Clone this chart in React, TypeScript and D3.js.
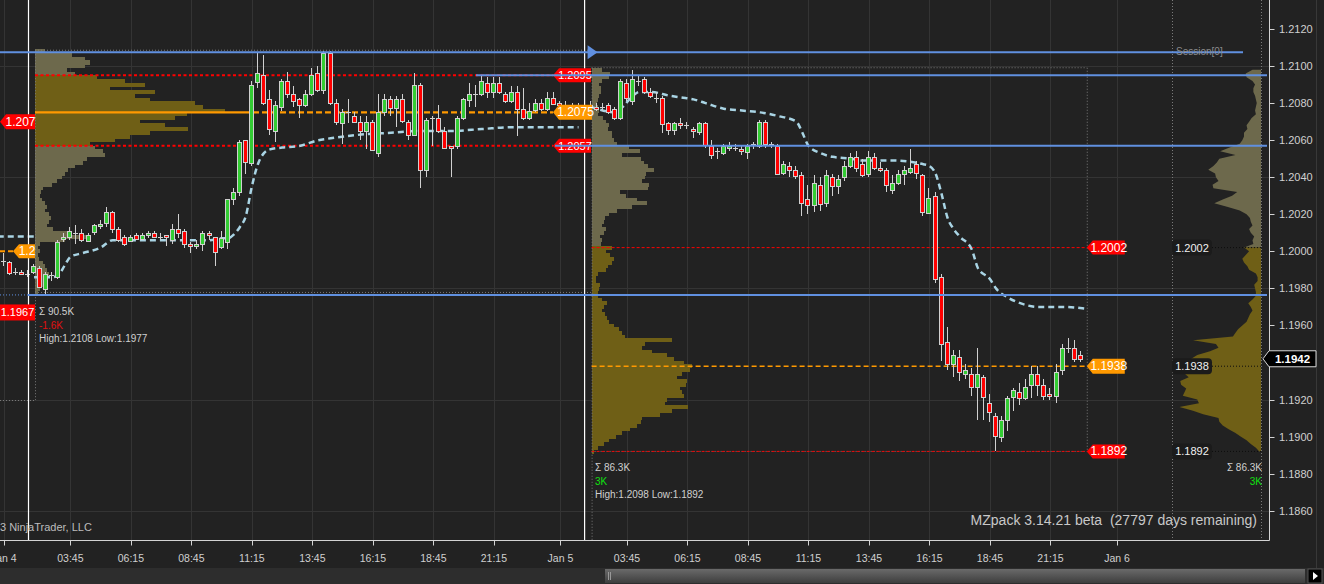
import React from 'react';
import * as d3 from 'd3';

const W = 1324;
const H = 584;
const FONT = '"Liberation Sans", Arial, sans-serif';

// ---------- data ----------
const FIRST_BAR = -4; // bar index of first candle (bar 0 = session 1 open, bar 92 = session 2 open)
const CANDLES: [number, number, number, number][] = [
  [1.1995, 1.1999, 1.1992, 1.1995], [1.1994, 1.1995, 1.1987, 1.1988], [1.1989, 1.1991, 1.1987, 1.1989], [1.1989, 1.1990, 1.1987, 1.1988],
  [1.1988, 1.1990, 1.1986, 1.1988], [1.1989, 1.1993, 1.1988, 1.1992], [1.1991, 1.1992, 1.1980, 1.1981], [1.1980, 1.1989, 1.1977, 1.1988],
  [1.1987, 1.1989, 1.1984, 1.1987], [1.1986, 1.2006, 1.1985, 1.2005], [1.2007, 1.2010, 1.2005, 1.2008], [1.2008, 1.2013, 1.2006, 1.2011],
  [1.2010, 1.2014, 1.2004, 1.2010], [1.2010, 1.2012, 1.2005, 1.2006], [1.2006, 1.2010, 1.2005, 1.2009], [1.2010, 1.2015, 1.2009, 1.2014],
  [1.2014, 1.2017, 1.2012, 1.2015], [1.2015, 1.2024, 1.2013, 1.2021], [1.2021, 1.2022, 1.2010, 1.2012], [1.2012, 1.2013, 1.2005, 1.2006],
  [1.2008, 1.2009, 1.2003, 1.2004], [1.2006, 1.2009, 1.2005, 1.2008], [1.2009, 1.2010, 1.2006, 1.2007], [1.2007, 1.2010, 1.2006, 1.2009],
  [1.2009, 1.2011, 1.2007, 1.2010], [1.2010, 1.2011, 1.2007, 1.2008], [1.2008, 1.2010, 1.2006, 1.2008], [1.2009, 1.2009, 1.2003, 1.2008],
  [1.2006, 1.2015, 1.2004, 1.2012], [1.2012, 1.2020, 1.2007, 1.2010], [1.2011, 1.2012, 1.2002, 1.2004], [1.2004, 1.2005, 1.1999, 1.2003],
  [1.2003, 1.2006, 1.2001, 1.2004], [1.2004, 1.2011, 1.2000, 1.2010], [1.2010, 1.2011, 1.2006, 1.2009], [1.2008, 1.2008, 1.1992, 1.2000],
  [1.2002, 1.2011, 1.2001, 1.2007], [1.2005, 1.2028, 1.2001, 1.2028], [1.2028, 1.2034, 1.2025, 1.2032], [1.2032, 1.2060, 1.2030, 1.2059],
  [1.2060, 1.2060, 1.2042, 1.2048], [1.2048, 1.2092, 1.2046, 1.2090], [1.2091, 1.2107, 1.2088, 1.2096], [1.2095, 1.2106, 1.2079, 1.2080],
  [1.2082, 1.2087, 1.2063, 1.2066], [1.2065, 1.2081, 1.2059, 1.2079], [1.2078, 1.2093, 1.2076, 1.2092], [1.2092, 1.2097, 1.2083, 1.2085],
  [1.2085, 1.2089, 1.2078, 1.2081], [1.2082, 1.2083, 1.2072, 1.2079], [1.2079, 1.2087, 1.2078, 1.2085], [1.2085, 1.2099, 1.2084, 1.2095],
  [1.2096, 1.2100, 1.2086, 1.2087], [1.2087, 1.2108, 1.2085, 1.2107], [1.2107, 1.2108, 1.2079, 1.2080], [1.2080, 1.2082, 1.2068, 1.2070],
  [1.2069, 1.2077, 1.2058, 1.2075], [1.2075, 1.2082, 1.2069, 1.2075], [1.2073, 1.2075, 1.2069, 1.2070], [1.2070, 1.2073, 1.2060, 1.2065],
  [1.2065, 1.2073, 1.2055, 1.2070], [1.2070, 1.2071, 1.2055, 1.2055], [1.2053, 1.2085, 1.2051, 1.2075], [1.2075, 1.2085, 1.2073, 1.2082],
  [1.2082, 1.2084, 1.2073, 1.2077], [1.2077, 1.2084, 1.2067, 1.2082], [1.2082, 1.2085, 1.2069, 1.2070], [1.2070, 1.2071, 1.2060, 1.2063],
  [1.2063, 1.2096, 1.2063, 1.2090], [1.2090, 1.2091, 1.2034, 1.2044], [1.2044, 1.2072, 1.2040, 1.2071], [1.2072, 1.2073, 1.2057, 1.2072],
  [1.2072, 1.2079, 1.2064, 1.2065], [1.2065, 1.2067, 1.2055, 1.2056], [1.2057, 1.2057, 1.2040, 1.2056], [1.2057, 1.2073, 1.2055, 1.2072],
  [1.2072, 1.2083, 1.2071, 1.2082], [1.2082, 1.2091, 1.2078, 1.2085], [1.2085, 1.2090, 1.2078, 1.2085], [1.2085, 1.2095, 1.2084, 1.2092],
  [1.2091, 1.2094, 1.2083, 1.2086], [1.2086, 1.2094, 1.2083, 1.2091], [1.2091, 1.2094, 1.2085, 1.2086], [1.2085, 1.2086, 1.2080, 1.2081],
  [1.2081, 1.2089, 1.2080, 1.2086], [1.2086, 1.2089, 1.2062, 1.2077], [1.2077, 1.2088, 1.2071, 1.2072], [1.2072, 1.2080, 1.2071, 1.2076],
  [1.2076, 1.2082, 1.2075, 1.2080], [1.2080, 1.2082, 1.2076, 1.2077], [1.2077, 1.2086, 1.2076, 1.2083], [1.2083, 1.2086, 1.2079, 1.2080],
  [1.2080, 1.2081, 1.2078, 1.2079], [1.2079, 1.2081, 1.2077, 1.2078], [1.2078, 1.2080, 1.2076, 1.2079], [1.2079, 1.2080, 1.2077, 1.2078],
  [1.2078, 1.2080, 1.2076, 1.2079], [1.2079, 1.2081, 1.2077, 1.2078], [1.2078, 1.2080, 1.2076, 1.2077], [1.2078, 1.2080, 1.2076, 1.2078],
  [1.2079, 1.2080, 1.2074, 1.2075], [1.2077, 1.2078, 1.2071, 1.2072], [1.2072, 1.2093, 1.2071, 1.2092], [1.2091, 1.2093, 1.2081, 1.2083],
  [1.2081, 1.2098, 1.2079, 1.2093], [1.2092, 1.2095, 1.2089, 1.2092], [1.2093, 1.2094, 1.2085, 1.2086], [1.2086, 1.2088, 1.2083, 1.2084],
  [1.2083, 1.2086, 1.2080, 1.2083], [1.2083, 1.2084, 1.2064, 1.2069], [1.2069, 1.2070, 1.2063, 1.2065], [1.2065, 1.2070, 1.2063, 1.2069],
  [1.2069, 1.2072, 1.2066, 1.2068], [1.2068, 1.2070, 1.2066, 1.2068], [1.2066, 1.2067, 1.2061, 1.2065], [1.2064, 1.2070, 1.2063, 1.2069],
  [1.2069, 1.2070, 1.2056, 1.2057], [1.2057, 1.2060, 1.2050, 1.2052], [1.2054, 1.2056, 1.2050, 1.2054], [1.2053, 1.2058, 1.2052, 1.2057],
  [1.2056, 1.2059, 1.2054, 1.2057], [1.2056, 1.2058, 1.2054, 1.2056], [1.2055, 1.2057, 1.2052, 1.2054], [1.2054, 1.2058, 1.2050, 1.2057],
  [1.2058, 1.2059, 1.2055, 1.2058], [1.2057, 1.2071, 1.2056, 1.2070], [1.2070, 1.2071, 1.2056, 1.2058], [1.2058, 1.2059, 1.2056, 1.2058],
  [1.2057, 1.2058, 1.2041, 1.2042], [1.2042, 1.2049, 1.2041, 1.2047], [1.2046, 1.2048, 1.2040, 1.2044], [1.2044, 1.2046, 1.2039, 1.2041],
  [1.2041, 1.2043, 1.2019, 1.2026], [1.2028, 1.2036, 1.2020, 1.2025], [1.2025, 1.2041, 1.2021, 1.2037], [1.2036, 1.2040, 1.2022, 1.2026],
  [1.2026, 1.2044, 1.2024, 1.2041], [1.2040, 1.2042, 1.2030, 1.2035], [1.2035, 1.2041, 1.2031, 1.2039], [1.2040, 1.2049, 1.2038, 1.2046],
  [1.2046, 1.2053, 1.2045, 1.2051], [1.2051, 1.2054, 1.2043, 1.2045], [1.2047, 1.2050, 1.2040, 1.2041], [1.2042, 1.2054, 1.2040, 1.2051],
  [1.2051, 1.2053, 1.2044, 1.2045], [1.2045, 1.2048, 1.2043, 1.2044], [1.2044, 1.2045, 1.2032, 1.2036], [1.2033, 1.2041, 1.2031, 1.2037],
  [1.2037, 1.2044, 1.2036, 1.2042], [1.2042, 1.2046, 1.2036, 1.2044], [1.2043, 1.2055, 1.2042, 1.2045], [1.2047, 1.2049, 1.2039, 1.2042],
  [1.2041, 1.2042, 1.2019, 1.2021], [1.2021, 1.2034, 1.2020, 1.2029], [1.2030, 1.2032, 1.1983, 1.1985], [1.1986, 1.1988, 1.1941, 1.1950],
  [1.1951, 1.1959, 1.1936, 1.1939], [1.1939, 1.1947, 1.1932, 1.1944], [1.1943, 1.1947, 1.1930, 1.1935], [1.1934, 1.1939, 1.1931, 1.1936],
  [1.1934, 1.1937, 1.1922, 1.1927], [1.1927, 1.1948, 1.1909, 1.1934], [1.1932, 1.1933, 1.1909, 1.1921], [1.1918, 1.1923, 1.1908, 1.1913],
  [1.1911, 1.1913, 1.1892, 1.1900], [1.1900, 1.1911, 1.1897, 1.1909], [1.1909, 1.1922, 1.1903, 1.1921], [1.1921, 1.1926, 1.1914, 1.1925],
  [1.1924, 1.1929, 1.1917, 1.1921], [1.1921, 1.1931, 1.1920, 1.1927], [1.1928, 1.1938, 1.1921, 1.1934], [1.1934, 1.1938, 1.1922, 1.1928],
  [1.1928, 1.1931, 1.1920, 1.1922], [1.1923, 1.1926, 1.1920, 1.1922], [1.1922, 1.1939, 1.1918, 1.1935], [1.1936, 1.1950, 1.1933, 1.1948],
  [1.1948, 1.1953, 1.1945, 1.1948], [1.1948, 1.1952, 1.1940, 1.1942], [1.1944, 1.1946, 1.1940, 1.1942],
];

const TIME_TICKS: [number, string][] = [
  [-4, 'Jan 4'], [7, '03:45'], [17, '06:15'], [27, '08:45'], [37, '11:15'], [47, '13:45'], [57, '16:15'], [67, '18:45'], [77, '21:15'],
  [88, 'Jan 5'], [99, '03:45'], [109, '06:15'], [119, '08:45'], [129, '11:15'], [139, '13:45'], [149, '16:15'], [159, '18:45'], [169, '21:15'],
  [180, 'Jan 6'],
];
// 1.1940 sits under the last-price tag in the reference, so it is not labelled
const PRICE_TICKS = [1.212, 1.21, 1.208, 1.206, 1.204, 1.202, 1.2, 1.198, 1.196, 1.192, 1.19, 1.188, 1.186];
const GRID_PRICES = [1.21, 1.204, 1.198, 1.192, 1.186];

// volume profiles: 2-pip bins, listed from the top bin downward
const S1_PROFILE_TOP = 1.2108;
const S1_PROFILE = [
  10, 37, 50, 55, 50, 32, 40, 62, 90, 110, 75, 120, 100, 115, 160, 168, 190, 152, 140, 105,
  130, 153, 115, 95, 80, 55, 60, 68, 70, 52, 48, 40, 33, 30, 27, 22, 17, 8, 6, 5,
  7, 10, 12, 10, 14, 16, 14, 12, 18, 35, 55, 30, 5, 3, 5, 3, 4, 8, 10, 12,
  14, 12, 10, 8, 5, 3,
];
const S2_PROFILE_TOP = 1.2098;
const S2_PROFILE = [
  10, 18, 17, 10, 7, 9, 9, 7, 6, 5, 6, 7, 6, 11, 14, 17, 16, 20, 20, 22,
  25, 37, 48, 30, 49, 52, 56, 62, 54, 53, 50, 57, 56, 28, 34, 45, 55, 40, 25, 17,
  13, 12, 10, 14, 12, 8, 10, 9,
  20, 14, 18, 22, 20, 16, 14, 6, 4, 4, 8, 7, 6, 6, 10, 15, 12, 10, 13, 15,
  17, 22, 27, 30, 33, 80, 53, 50, 60, 75, 82, 92, 100, 98, 90, 85, 95, 94, 88, 90,
  92, 75, 73, 96, 80, 68, 50, 49, 45, 38, 30, 24, 17, 12, 6, 2,
];

const S1 = { start: 0, high: 1.2108, low: 1.1977, vah: 1.2095, poc: 1.2075, val: 1.2057 };
const S2 = { start: 92, end: 175, high: 1.2098, low: 1.1892, vah: 1.2002, poc: 1.1938, val: 1.1892 };
const LAST_PRICE = 1.1942;

const VWAP_PREV: [number, number][] = [[-5, 1.2008], [1, 1.2008]];
const VWAP_S1: [number, number][] = [
  [1, 1.1986], [4, 1.1986], [5, 1.1987], [6, 1.1992], [7, 1.1997], [9, 1.1999], [12, 1.2002], [14, 1.2006], [18, 1.2006],
  [25, 1.2006], [30, 1.2006], [32, 1.2007], [33, 1.2007], [34, 1.2009], [35, 1.2013], [36, 1.2019], [37, 1.2035], [38, 1.2047],
  [39, 1.2053], [40, 1.2055], [42, 1.2056], [45, 1.2057], [48, 1.2060], [50, 1.2061], [55, 1.2063], [60, 1.2064], [65, 1.2065],
  [70, 1.2065], [75, 1.2066], [80, 1.2067], [85, 1.2067], [91, 1.2067],
];
const VWAP_S2: [number, number][] = [
  [93, 1.2078], [94, 1.2077], [97, 1.2075], [98, 1.2077], [100, 1.2084], [101, 1.2086], [103, 1.2086], [106, 1.2084], [108, 1.2083],
  [110, 1.2082], [112, 1.2080], [115, 1.2077], [118, 1.2076], [121, 1.2075], [124, 1.2073], [127, 1.2070], [128, 1.2064], [129, 1.2057],
  [131, 1.2053], [133, 1.2051], [136, 1.2050], [138, 1.2049], [143, 1.2049], [148, 1.2047], [149, 1.2046], [150, 1.2042], [151, 1.2031],
  [152, 1.2018], [153, 1.2012], [154, 1.2008], [156, 1.2001], [157, 1.1991], [159, 1.1985], [160, 1.1980], [162, 1.1975], [164, 1.1972],
  [167, 1.1970], [171, 1.1970], [175, 1.1969],
];

// ---------- colours ----------
const BG = '#222222';
const GRID = '#343434';
const AXIS = '#d4d4d4';
const TXT = '#d0d0d0';
const RED = '#ff0000';
const ORANGE = '#ff9900';
const BLUE = '#6090e0';
const VWAP_C = '#a9d4e4';
const GREEN_C = '#33cc33';
const OUTLINE = '#d0d0d0';
const VA_C = '#6f5f16';
const NONVA_C = '#6d694c';

function Tag(props: { x: number; y: number; w: number; h?: number; text: string; fill: string; color?: string; size?: number; bold?: boolean; stroke?: string }) {
  const { x, y, w, text, fill } = props;
  const h = props.h ?? 14;
  const p = 6;
  const d = `M${x},${y} L${x + p},${y - h / 2} L${x + w},${y - h / 2} L${x + w},${y + h / 2} L${x + p},${y + h / 2} Z`;
  return (
    <g>
      <path d={d} fill={fill} stroke={props.stroke ?? 'none'} strokeWidth={1} />
      <text x={x + p + (w - p) / 2} y={y + 4} textAnchor="middle" fill={props.color ?? '#fff'} fontSize={props.size ?? 11} fontWeight={props.bold ? 'bold' : 'normal'}>
        {text}
      </text>
    </g>
  );
}

export default function App() {
  const x = d3.scaleLinear().domain([0, 180]).range([28, 1117]);
  const y = d3.scaleLinear().domain([1.186, 1.212]).range([510.7, 29]);
  const PLOT_R = 1269.5;
  const PLOT_B = 540.5;
  const binH = y(1.2) - y(1.2002);

  const s1Left = x(S1.start) + 7;
  const s2Left = x(S2.start) + 7;
  const s2Right = x(S2.end);
  const rightProfX = 1261;
  const darkLabelX = 1172;

  const vwapLine = d3.line<[number, number]>().x((d) => x(d[0])).y((d) => y(d[1])).curve(d3.curveMonotoneX);

  const s1Bins = S1_PROFILE.map((w, i) => ({ p: S1_PROFILE_TOP - i * 0.0002, w }));
  const s2Bins = S2_PROFILE.map((w, i) => ({ p: S2_PROFILE_TOP - i * 0.0002, w }));
  const s1Max = d3.max(S1_PROFILE) as number;

  const rArea = d3.area<{ p: number; w: number }>().y((d) => y(d.p)).x0(rightProfX).x1((d) => rightProfX - d.w * 0.85).curve(d3.curveLinear);
  const upperBins = s2Bins.filter((b) => b.p >= S2.vah - 1e-9);
  const lowerBins = s2Bins.filter((b) => b.p <= S2.vah + 1e-9);

  return (
    <svg width={W} height={H} style={{ position: 'absolute', left: 0, top: 0, display: 'block' }} fontFamily={FONT}>
      <rect x={0} y={0} width={W} height={H} fill={BG} />

      {/* grid */}
      {GRID_PRICES.map((p) => (
        <line key={'gh' + p} x1={0} x2={PLOT_R} y1={Math.round(y(p)) + 0.5} y2={Math.round(y(p)) + 0.5} stroke={GRID} strokeWidth={1} />
      ))}
      {TIME_TICKS.map(([i, t]) => (
        <line key={'gv' + i + t} x1={Math.round(x(i)) + 0.5} x2={Math.round(x(i)) + 0.5} y1={0} y2={PLOT_B} stroke={GRID} strokeWidth={1} />
      ))}

      {/* session profiles */}
      <g shapeRendering="crispEdges">
        {s1Bins.map((b, i) => (
          <rect key={'p1' + i} x={s1Left} y={y(b.p + 0.0001)} width={b.w} height={binH + 0.3}
            fill={b.p <= S1.vah + 1e-9 && b.p >= S1.val - 1e-9 ? VA_C : NONVA_C} />
        ))}
        {s2Bins.map((b, i) => (
          <rect key={'p2' + i} x={s2Left} y={y(b.p + 0.0001)} width={b.w} height={binH + 0.3}
            fill={b.p <= S2.vah + 1e-9 ? VA_C : NONVA_C} />
        ))}
      </g>
      {/* right-side composite profile */}
      <path d={rArea(upperBins) ?? ''} fill={NONVA_C} />
      <path d={rArea(lowerBins) ?? ''} fill={VA_C} />

      {/* dotted boxes / separators */}
      <g stroke="#7a7a7a" strokeWidth={1} strokeDasharray="1,2" fill="none">
        <line x1={s1Left + 0.5} x2={s1Left + 0.5} y1={y(S1.high)} y2={400} />
        <line x1={0} x2={s1Left} y1={400.5} y2={400.5} />
        <line x1={s1Left} x2={s2Left} y1={y(S1.high) - 1} y2={y(S1.high) - 1} />
        <line x1={s1Left} x2={s2Left} y1={y(S1.low) - 1.5} y2={y(S1.low) - 1.5} />
        <line x1={s2Left + 0.5} x2={s2Left + 0.5} y1={y(S2.high) - 2} y2={PLOT_B} />
        <line x1={s2Left} x2={s2Right} y1={y(S2.high) - 2} y2={y(S2.high) - 2} />
        <line x1={s2Left} x2={s2Right} y1={y(S2.low)} y2={y(S2.low)} />
        <line x1={s2Right + 0.5} x2={s2Right + 0.5} y1={y(S2.high) - 2} y2={y(S2.low)} />
        <line x1={darkLabelX + 0.5} x2={darkLabelX + 0.5} y1={0} y2={PLOT_B} />
        <line x1={rightProfX + 0.5} x2={rightProfX + 0.5} y1={0} y2={PLOT_B} />
      </g>

      {/* session 1 value area & POC */}
      <line x1={s1Left} x2={553} y1={y(S1.vah)} y2={y(S1.vah)} stroke={RED} strokeWidth={2} strokeDasharray="3,2.5" />
      <line x1={s1Left} x2={553} y1={y(S1.val)} y2={y(S1.val)} stroke={RED} strokeWidth={2} strokeDasharray="3,2.5" />
      <line x1={s1Left} x2={s1Left + s1Max + 28} y1={y(S1.poc)} y2={y(S1.poc)} stroke={ORANGE} strokeWidth={2.2} />
      <line x1={s1Left + s1Max + 28} x2={553} y1={y(S1.poc)} y2={y(S1.poc)} stroke={ORANGE} strokeWidth={2.2} strokeDasharray="6,3" />

      {/* session 2 value area & POC */}
      <line x1={s2Left} x2={s2Right} y1={y(S2.vah)} y2={y(S2.vah)} stroke={RED} strokeWidth={1} strokeDasharray="3,2" />
      <line x1={s2Left} x2={s2Right} y1={y(S2.val)} y2={y(S2.val)} stroke={RED} strokeWidth={1} strokeDasharray="3,2" opacity={0.9} />
      <line x1={s2Left} x2={s2Right} y1={y(S2.poc)} y2={y(S2.poc)} stroke={ORANGE} strokeWidth={1.6} strokeDasharray="5,3" />

      {/* previous session marks on the left */}
      <line x1={0} x2={14} y1={y(1.2)} y2={y(1.2)} stroke={ORANGE} strokeWidth={2} strokeDasharray="5,3" />

      {/* VWAP */}
      <path d={vwapLine(VWAP_PREV) ?? ''} fill="none" stroke={VWAP_C} strokeWidth={2.5} strokeDasharray="6,4" />
      <path d={vwapLine(VWAP_S1) ?? ''} fill="none" stroke={VWAP_C} strokeWidth={2.5} strokeDasharray="6,4" />
      <path d={vwapLine(VWAP_S2) ?? ''} fill="none" stroke={VWAP_C} strokeWidth={2.5} strokeDasharray="6,4" />

      {/* candles */}
      <g shapeRendering="crispEdges">
        {CANDLES.map(([o, h, l, c], i) => {
          const idx = FIRST_BAR + i;
          const cx = Math.round(x(idx)) - 1;
          const top = y(Math.max(o, c));
          const bot = y(Math.min(o, c));
          const flat = Math.abs(c - o) < 1e-7;
          return (
            <g key={'c' + i}>
              <line x1={cx + 0.5} x2={cx + 0.5} y1={y(h)} y2={y(l)} stroke={OUTLINE} strokeWidth={1} />
              {flat ? (
                <line x1={cx - 2} x2={cx + 3} y1={Math.round(top) + 0.5} y2={Math.round(top) + 0.5} stroke={OUTLINE} strokeWidth={1.5} />
              ) : (
                <rect x={cx - 1.5} y={Math.round(top) + 0.5} width={4} height={Math.max(1, Math.round(bot - top))}
                  fill={c > o ? GREEN_C : RED} stroke={OUTLINE} strokeWidth={1} />
              )}
            </g>
          );
        })}
      </g>

      {/* session separators */}
      <line x1={x(S1.start) + 0.5} x2={x(S1.start) + 0.5} y1={0} y2={PLOT_B} stroke="#ffffff" strokeWidth={1.2} />
      <line x1={x(S2.start)} x2={x(S2.start)} y1={0} y2={PLOT_B} stroke="#ffffff" strokeWidth={1.2} />

      {/* price tags */}
      <Tag x={553} y={y(S1.vah)} w={38} text="1.2095" fill={RED} />
      <Tag x={553} y={y(S1.poc)} w={39} h={15} text="1.2075" fill={ORANGE} size={12} />
      <Tag x={553} y={y(S1.val)} w={38} text="1.2057" fill={RED} />
      <Tag x={0} y={y(1.207)} w={35} h={15} text="1.207" fill={RED} size={12} />
      <Tag x={13} y={y(1.2)} w={22} h={14} text="1.2" fill={ORANGE} size={12} />
      <rect x={0} y={y(1.1967) - 8} width={35} height={16} fill={RED} />
      <text x={17.5} y={y(1.1967) + 4} textAnchor="middle" fill="#fff" fontSize={11}>1.1967</text>

      <Tag x={s2Right} y={y(S2.vah)} w={38} text="1.2002" fill={RED} size={12} />
      <Tag x={s2Right} y={y(S2.poc)} w={38} h={15} text="1.1938" fill={ORANGE} size={12} />
      <Tag x={s2Right} y={y(S2.val)} w={38} text="1.1892" fill={RED} size={12} />

      {/* dark value labels */}
      {[S2.vah, S2.poc, S2.val].map((p) => (
        <g key={'dl' + p}>
          <line x1={1212} x2={rightProfX} y1={y(p)} y2={y(p)} stroke="#0d0d0d" strokeWidth={1} strokeDasharray="1,2" />
          <rect x={darkLabelX} y={y(p) - 8} width={40} height={16} rx={4} fill="#1b1b1b" />
          <text x={darkLabelX + 20} y={y(p) + 4} textAnchor="middle" fill="#f0f0f0" fontSize={11}>{d3.format('.4f')(p)}</text>
        </g>
      ))}

      {/* blue level lines */}
      <line x1={0} x2={1243} y1={y(S1.high) + 1} y2={y(S1.high) + 1} stroke={BLUE} strokeWidth={2} />
      <path d={`M${x(S2.start) + 3},${y(S1.high) - 6} L${x(S2.start) + 13},${y(S1.high) + 1} L${x(S2.start) + 3},${y(S1.high) + 8} Z`} fill={BLUE} />
      <line x1={476} x2={1267} y1={y(S1.vah)} y2={y(S1.vah)} stroke={BLUE} strokeWidth={2} />
      <line x1={555} x2={1267} y1={y(S1.val)} y2={y(S1.val)} stroke={BLUE} strokeWidth={2} />
      <line x1={x(S1.start)} x2={1267} y1={y(S1.low) + 1} y2={y(S1.low) + 1} stroke={BLUE} strokeWidth={2} />
      <line x1={0} x2={x(S1.start)} y1={y(S1.low) + 1} y2={y(S1.low) + 1} stroke={BLUE} strokeWidth={1} strokeDasharray="1,2" />
      <text x={1176} y={y(S1.high) + 4} fill="#8c8c8c" fontSize={10}>Session[0]</text>

      {/* session statistics */}
      <g fontSize={10}>
        <text x={39} y={315} fill={TXT}>Σ 90.5K</text>
        <text x={39} y={328.5} fill="#e01010">-1.6K</text>
        <text x={39} y={342} fill={TXT}>High:1.2108 Low:1.1977</text>
        <text x={595} y={471} fill={TXT}>Σ 86.3K</text>
        <text x={595} y={485} fill="#10e010">3K</text>
        <text x={595} y={497.5} fill={TXT}>High:1.2098 Low:1.1892</text>
        <text x={1262} y={471} fill={TXT} textAnchor="end">Σ 86.3K</text>
        <text x={1262} y={485} fill="#10e010" textAnchor="end">3K</text>
      </g>

      <text x={0} y={531} fill="#bdbdbd" fontSize={11}>3 NinjaTrader, LLC</text>
      <text x={1257} y={525} fill="#c8c8c8" fontSize={14} textAnchor="end" style={{ whiteSpace: 'pre' }}>
        {'MZpack 3.14.21 beta  (27797 days remaining)'}
      </text>

      {/* axes */}
      <line x1={PLOT_R} x2={PLOT_R} y1={0} y2={PLOT_B} stroke={AXIS} strokeWidth={1} />
      <line x1={0} x2={PLOT_R} y1={PLOT_B} y2={PLOT_B} stroke={AXIS} strokeWidth={1} />
      <line x1={1316.5} x2={1316.5} y1={0} y2={568} stroke="#383838" strokeWidth={1} />
      {PRICE_TICKS.map((p) => (
        <g key={'pt' + p}>
          <line x1={PLOT_R} x2={PLOT_R + 5} y1={Math.round(y(p)) + 0.5} y2={Math.round(y(p)) + 0.5} stroke={AXIS} />
          <text x={1279} y={y(p) + 4} fill={TXT} fontSize={11}>{d3.format('.4f')(p)}</text>
        </g>
      ))}
      {TIME_TICKS.map(([i, t]) => (
        <g key={'tt' + i + t}>
          <line x1={Math.round(x(i)) + 0.5} x2={Math.round(x(i)) + 0.5} y1={PLOT_B} y2={PLOT_B + 5} stroke={AXIS} />
          <text x={x(i)} y={562} fill={TXT} fontSize={10.5} textAnchor="middle">{t}</text>
        </g>
      ))}

      {/* last price */}
      <Tag x={1263} y={y(LAST_PRICE)} w={53} h={16} text="1.1942" fill="#000" stroke="#d8d8d8" bold size={11.5} />

      {/* scrollbar */}
      <rect x={0} y={568} width={W} height={16} fill="#2d2d2d" />
      <defs>
        <linearGradient id="thumb" x1="0" y1="0" x2="0" y2="1">
          <stop offset="0" stopColor="#6a6a6a" />
          <stop offset="1" stopColor="#3e3e3e" />
        </linearGradient>
      </defs>
      <rect x={605} y={569} width={700} height={14} fill="url(#thumb)" />
      <line x1={608.5} x2={608.5} y1={572} y2={580} stroke="#999" />
      <line x1={610.5} x2={610.5} y1={572} y2={580} stroke="#999" />
      <rect x={1308} y={569} width={14} height={14} fill="#000" stroke="#555" />
      <path d="M1313,572 L1318,576 L1313,580 Z" fill="#fff" />
    </svg>
  );
}
